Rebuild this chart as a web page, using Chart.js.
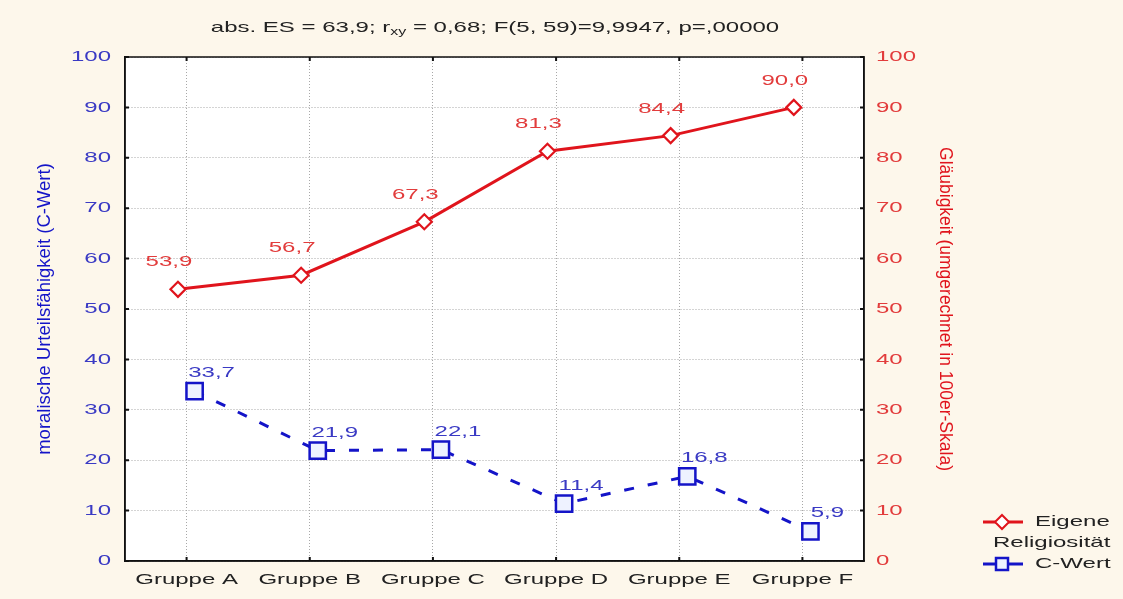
<!DOCTYPE html>
<html>
<head>
<meta charset="utf-8">
<script src="https://cdn.jsdelivr.net/npm/chart.js@4.4.1/dist/chart.umd.min.js"></script>
<style>
  html, body { margin: 0; padding: 0; background: #fdf7eb; }
  #wrap { position: relative; width: 1123px; height: 599px; }
  #title { position: absolute; top: 18px; left: 0; width: 990px; text-align: center;
           font: 15px "Liberation Sans", Arial, sans-serif; color: #222;
           transform: scaleX(1.6); transform-origin: 495px 0; }
  #title sub { font-size: 10px; vertical-align: -3px; }
  #legend { position: absolute; left: 982px; top: 510px; font: 15px "Liberation Sans", Arial, sans-serif; color: #222; }
  .li { position: relative; height: 21px; line-height: 22px; }
  .li svg { position: absolute; left: 0; top: 2px; }
  .li span { position: absolute; left: 53px; white-space: nowrap; transform: scaleX(1.6); transform-origin: 0 0; }
</style>
</head>
<body>
<div id="wrap">
  <canvas id="c" width="1123" height="599"></canvas>
  <div id="title">abs. ES = 63,9; r<sub>xy</sub> = 0,68; F(5, 59)=9,9947, p=,00000</div>
  <div id="legend">
    <div class="li"><svg width="44" height="20"><line x1="1" y1="10" x2="41" y2="10" stroke="#e0141c" stroke-width="3"/><polygon points="20,3 27,10 20,17 13,10" fill="#fff" stroke="#e0141c" stroke-width="2"/></svg><span>Eigene</span></div>
    <div class="li"><span style="left:11px">Religiosität</span></div>
    <div class="li"><svg width="44" height="20"><line x1="1" y1="10" x2="41" y2="10" stroke="#1414c8" stroke-width="3"/><rect x="14" y="4" width="12" height="12" fill="#eef2ff" stroke="#1414c8" stroke-width="2.5"/></svg><span>C-Wert</span></div>
  </div>
</div>
<script>
const categories = ['Gruppe A', 'Gruppe B', 'Gruppe C', 'Gruppe D', 'Gruppe E', 'Gruppe F'];
const religiositaet = [53.9, 56.7, 67.3, 81.3, 84.4, 90.0];
const cWert = [33.7, 21.9, 22.1, 11.4, 16.8, 5.9];
const yTicks = [0, 10, 20, 30, 40, 50, 60, 70, 80, 90, 100];
const leftAxisTitle = 'moralische Urteilsfähigkeit (C-Wert)';
const rightAxisTitle = 'Gläubigkeit (umgerechnet in 100er-Skala)';

// style constants
const RED = '#e0141c', BLUE = '#1414c8';
const RED_TXT = '#e23c3c', BLUE_TXT = '#3a3ac4';
const SHIFT_RED = -0.07, SHIFT_BLUE = 0.065;
const STRETCH = 1.6; // horizontal text stretch of the reference
const FONT = '"Liberation Sans", Arial, sans-serif';

const fmt = v => v.toFixed(1).replace('.', ',');
const toPts = (arr, shift) => arr.map((v, i) => ({ x: i + shift, y: v }));

function patchCtx(ctx) {
  if (ctx.__stretched) return;
  ctx.__stretched = true;
  const ft = ctx.fillText.bind(ctx), mt = ctx.measureText.bind(ctx);
  ctx.fillText = function (text, x, y, mw) {
    const t = ctx.getTransform();
    if (Math.abs(t.b) > 1e-6 || Math.abs(t.c) > 1e-6) {
      return mw === undefined ? ft(text, x, y) : ft(text, x, y, mw);
    }
    ctx.save(); ctx.translate(x, y); ctx.scale(STRETCH, 1); ft(text, 0, 0); ctx.restore();
  };
  ctx.measureText = function (text) {
    const m = mt(text);
    return { width: m.width * STRETCH,
             actualBoundingBoxAscent: m.actualBoundingBoxAscent,
             actualBoundingBoxDescent: m.actualBoundingBoxDescent,
             actualBoundingBoxLeft: m.actualBoundingBoxLeft * STRETCH,
             actualBoundingBoxRight: m.actualBoundingBoxRight * STRETCH };
  };
}

const stretchPlugin = { id: 'stretch', beforeInit(chart) { patchCtx(chart.ctx); } };

const bgPlugin = {
  id: 'bg',
  beforeDraw(chart) {
    const { ctx, chartArea: a } = chart;
    ctx.save();
    ctx.fillStyle = '#fdf7eb';
    ctx.fillRect(0, 0, chart.width, chart.height);
    ctx.fillStyle = '#ffffff';
    ctx.fillRect(a.left, a.top, a.right - a.left, a.bottom - a.top);
    ctx.restore();
  },
  afterDatasetsDraw(chart) {
    const { ctx, chartArea: a, scales } = chart;
    ctx.save();
    ctx.strokeStyle = '#111';
    ctx.lineWidth = 1.5;
    ctx.strokeRect(a.left, a.top, a.right - a.left, a.bottom - a.top);
    ctx.lineWidth = 2;
    ctx.beginPath();
    scales.yL.ticks.forEach(t => {
      const y = scales.yL.getPixelForValue(t.value);
      ctx.moveTo(a.left, y); ctx.lineTo(a.left + 4, y);
      ctx.moveTo(a.right, y); ctx.lineTo(a.right - 4, y);
    });
    scales.x.ticks.forEach(t => {
      const x = scales.x.getPixelForValue(t.value);
      ctx.moveTo(x, a.bottom); ctx.lineTo(x, a.bottom - 4);
      ctx.moveTo(x, a.top); ctx.lineTo(x, a.top + 4);
    });
    ctx.stroke();
    ctx.restore();
  }
};

const labelPlugin = {
  id: 'vlabels',
  afterDatasetsDraw(chart) {
    const { ctx } = chart;
    ctx.save();
    ctx.font = '15px ' + FONT;
    ctx.textAlign = 'center';
    ctx.textBaseline = 'middle';
    chart.data.datasets.forEach((ds, di) => {
      const meta = chart.getDatasetMeta(di);
      const o = ds.labelOffset;
      meta.data.forEach((pt, i) => {
        ctx.fillStyle = ds.labelColor;
        ctx.fillText(fmt(ds.data[i].y), pt.x + o[0], pt.y + o[1]);
      });
    });
    ctx.restore();
  }
};

new Chart(document.getElementById('c'), {
  type: 'line',
  data: {
    datasets: [
      {
        label: 'Eigene Religiosität',
        data: toPts(religiositaet, SHIFT_RED),
        yAxisID: 'yR',
        borderColor: RED, borderWidth: 3,
        pointStyle: 'rectRot', pointRadius: 7.5, pointBorderWidth: 2.2,
        pointBackgroundColor: '#fff', pointBorderColor: RED,
        labelColor: RED_TXT, labelOffset: [-9, -27]
      },
      {
        label: 'C-Wert',
        data: toPts(cWert, SHIFT_BLUE),
        yAxisID: 'yL',
        borderColor: BLUE, borderWidth: 3, borderDash: [10, 14],
        pointStyle: 'rect', pointRadius: 11.5, pointBorderWidth: 2.5,
        pointBackgroundColor: '#eef2ff', pointBorderColor: BLUE,
        labelColor: BLUE_TXT, labelOffset: [17, -18]
      }
    ]
  },
  options: {
    responsive: false,
    animation: false,
    layout: { padding: { left: 32, right: 166, top: 57, bottom: 0 } },
    plugins: { legend: { display: false }, tooltip: { enabled: false }, title: { display: false } },
    scales: {
      x: {
        type: 'linear', min: -0.5, max: 5.5,
        afterBuildTicks: s => { s.ticks = categories.map((c, i) => ({ value: i })); },
        afterFit: s => { s.height = 38; },
        ticks: { callback: v => categories[v] ?? '', color: '#222', padding: 10,
                 autoSkip: false, maxRotation: 0, font: { family: FONT, size: 15 } },
        grid: { color: '#a8a8a8', lineWidth: 1, drawTicks: false },
        border: { display: true, color: '#111', width: 1.5, dash: [1, 2] }
      },
      yL: {
        position: 'left', min: 0, max: 100,
        afterBuildTicks: s => { s.ticks = yTicks.map(v => ({ value: v })); },
        afterFit: s => { s.width = 93; },
        ticks: { color: BLUE_TXT, padding: 14, font: { family: FONT, size: 15 } },
        grid: { color: '#a8a8a8', lineWidth: 1, drawTicks: false },
        border: { display: true, color: '#111', width: 1.5, dash: [1, 2] },
        title: { display: true, text: leftAxisTitle, color: BLUE, padding: 2,
                 font: { family: FONT, size: 18.5 } }
      },
      yR: {
        position: 'right', min: 0, max: 100,
        afterBuildTicks: s => { s.ticks = yTicks.map(v => ({ value: v })); },
        afterFit: s => { s.width = 93; },
        ticks: { color: RED_TXT, padding: 12, font: { family: FONT, size: 15 } },
        grid: { drawOnChartArea: false, drawTicks: false },
        border: { display: true, color: '#111', width: 1.5 },
        title: { display: true, text: rightAxisTitle, color: RED, padding: 2,
                 font: { family: FONT, size: 17.5 } }
      }
    }
  },
  plugins: [stretchPlugin, bgPlugin, labelPlugin]
});
</script>
</body>
</html>
